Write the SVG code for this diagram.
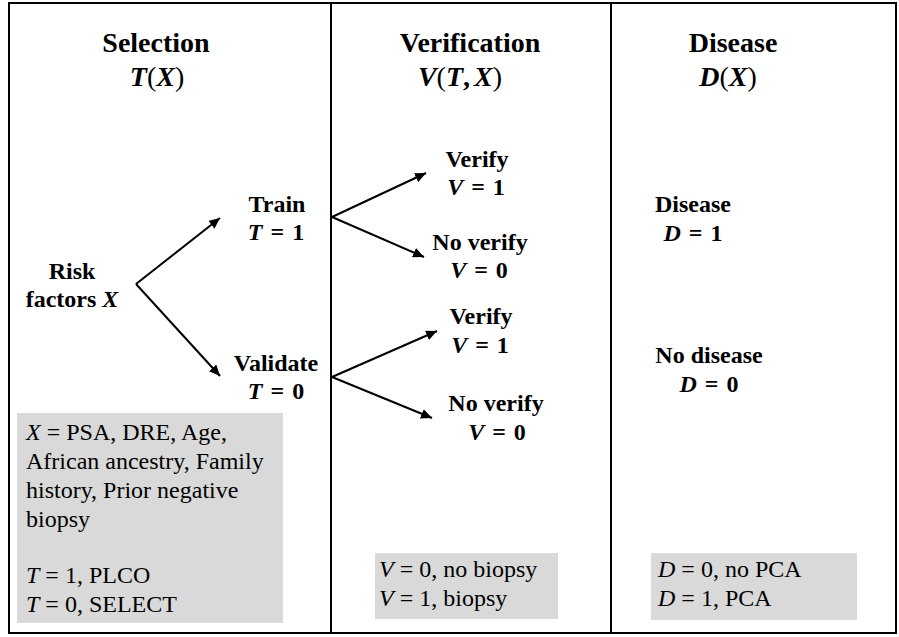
<svg xmlns="http://www.w3.org/2000/svg" width="899" height="637" viewBox="0 0 899 637">
<style>
text{font-family:'Liberation Serif','Times New Roman',serif;fill:#000}
.hd{font-size:28px;font-weight:bold;text-anchor:middle}
.nd{font-size:24px;font-weight:bold;text-anchor:middle}
.bx{font-size:24px}
.it{font-style:italic}
.rg{font-weight:normal}
.box{fill:#d9d9d9}
.frame{fill:none;stroke:#000;stroke-width:2}
.conn line{stroke:#000;stroke-width:2;marker-end:url(#ah)}
</style>
<defs>
<marker id="ah" markerUnits="userSpaceOnUse" markerWidth="12" markerHeight="10" refX="11" refY="5" orient="auto">
<path d="M0,0 L11,5 L0,10 Z" fill="#000"/>
</marker>
</defs>
<rect x="0" y="0" width="899" height="637" fill="#fff"/>
<rect class="frame" x="9" y="3" width="887" height="630"/>
<line x1="331" y1="3" x2="331" y2="633" stroke="#000" stroke-width="2"/>
<line x1="611" y1="3" x2="611" y2="633" stroke="#000" stroke-width="2"/>

<g id="header-selection">
<text class="hd" x="156" y="52">Selection</text>
<text class="hd" x="157" y="86"><tspan class="it">T</tspan><tspan class="rg">(</tspan><tspan class="it">X</tspan><tspan class="rg">)</tspan></text>
</g>
<g id="header-verification">
<text class="hd" x="470" y="52">Verification</text>
<text class="hd" x="460" y="86"><tspan class="it">V</tspan><tspan class="rg">(</tspan><tspan class="it">T</tspan>,<tspan class="it" dx="4">X</tspan><tspan class="rg">)</tspan></text>
</g>
<g id="header-disease">
<text class="hd" x="733" y="52">Disease</text>
<text class="hd" x="728" y="86"><tspan class="it">D</tspan><tspan class="rg">(</tspan><tspan class="it">X</tspan><tspan class="rg">)</tspan></text>
</g>

<g id="node-risk">
<text class="nd" x="72" y="279">Risk</text>
<text class="nd" x="72" y="307">factors <tspan class="it">X</tspan></text>
</g>
<g id="node-train">
<text class="nd" x="277" y="212">Train</text>
<text class="nd" x="276" y="240"><tspan class="it">T</tspan> <tspan dx="2">=</tspan> <tspan dx="2">1</tspan></text>
</g>
<g id="node-validate">
<text class="nd" x="276" y="371">Validate</text>
<text class="nd" x="276" y="399"><tspan class="it">T</tspan> <tspan dx="2">=</tspan> <tspan dx="2">0</tspan></text>
</g>
<g id="node-verify1">
<text class="nd" x="477" y="167">Verify</text>
<text class="nd" x="476" y="195"><tspan class="it">V</tspan> <tspan dx="2">=</tspan> <tspan dx="2">1</tspan></text>
</g>
<g id="node-noverify1">
<text class="nd" x="480" y="250">No verify</text>
<text class="nd" x="479" y="278"><tspan class="it">V</tspan> <tspan dx="2">=</tspan> <tspan dx="2">0</tspan></text>
</g>
<g id="node-verify2">
<text class="nd" x="481" y="324">Verify</text>
<text class="nd" x="480" y="353"><tspan class="it">V</tspan> <tspan dx="2">=</tspan> <tspan dx="2">1</tspan></text>
</g>
<g id="node-noverify2">
<text class="nd" x="496" y="411">No verify</text>
<text class="nd" x="497" y="440"><tspan class="it">V</tspan> <tspan dx="2">=</tspan> <tspan dx="2">0</tspan></text>
</g>
<g id="node-disease">
<text class="nd" x="693" y="212">Disease</text>
<text class="nd" x="693" y="241"><tspan class="it">D</tspan> <tspan dx="2">=</tspan> <tspan dx="2">1</tspan></text>
</g>
<g id="node-nodisease">
<text class="nd" x="709" y="363">No disease</text>
<text class="nd" x="709" y="392"><tspan class="it">D</tspan> <tspan dx="2">=</tspan> <tspan dx="2">0</tspan></text>
</g>

<g id="connectors" class="conn">
<line x1="136" y1="284" x2="220" y2="218"/>
<line x1="136" y1="284" x2="220" y2="376"/>
<line x1="332" y1="217" x2="426" y2="173"/>
<line x1="332" y1="217" x2="424" y2="257"/>
<line x1="332" y1="377" x2="437" y2="331"/>
<line x1="332" y1="377" x2="432" y2="418"/>
</g>

<g id="legend-selection">
<rect class="box" x="17" y="413" width="266" height="210"/>
<text class="bx" x="26" y="440"><tspan class="it">X</tspan> = PSA, DRE, Age,</text>
<text class="bx" x="26" y="469">African ancestry, Family</text>
<text class="bx" x="26" y="498">history, Prior negative</text>
<text class="bx" x="26" y="527">biopsy</text>
<text class="bx" x="26" y="583"><tspan class="it">T</tspan> = 1, PLCO</text>
<text class="bx" x="26" y="612"><tspan class="it">T</tspan> = 0, SELECT</text>
</g>
<g id="legend-verification">
<rect class="box" x="375" y="553" width="183" height="66"/>
<text class="bx" x="379" y="577"><tspan class="it">V</tspan> = 0, no biopsy</text>
<text class="bx" x="379" y="606"><tspan class="it">V</tspan> = 1, biopsy</text>
</g>
<g id="legend-disease">
<rect class="box" x="651" y="553" width="206" height="67"/>
<text class="bx" x="658" y="577"><tspan class="it">D</tspan> = 0, no PCA</text>
<text class="bx" x="658" y="606"><tspan class="it">D</tspan> = 1, PCA</text>
</g>
</svg>
